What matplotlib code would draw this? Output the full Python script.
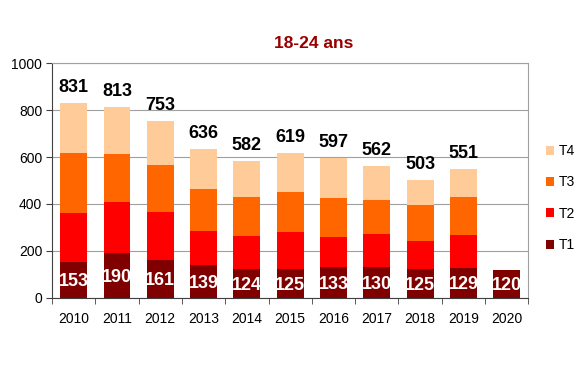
import matplotlib.pyplot as plt
import numpy as np

years = ['2010', '2011', '2012', '2013', '2014', '2015', '2016', '2017', '2018', '2019', '2020']
t1 = [153, 190, 161, 139, 124, 125, 133, 130, 125, 129, 120]
t2 = [207, 218, 205, 145, 141, 156, 127, 141, 119, 140, 0]
t3 = [257, 205, 200, 181, 166, 171, 166, 147, 150, 161, 0]
t4 = [214, 200, 187, 171, 151, 167, 171, 144, 109, 121, 0]
totals = [831, 813, 753, 636, 582, 619, 597, 562, 503, 551, None]

series = [('T1', t1, '#800000'), ('T2', t2, '#ff0000'),
          ('T3', t3, '#ff6600'), ('T4', t4, '#ffcc99')]

plt.rcParams['font.family'] = ['Liberation Sans', 'DejaVu Sans']

fig = plt.figure(figsize=(5.81, 3.71), dpi=100)
ax = fig.add_axes([0.0895, 0.197, 0.82, 0.633])

x = np.arange(len(years))
bottom = np.zeros(len(years))
handles = []
for name, vals, col in series:
    b = ax.bar(x, vals, 0.62, bottom=bottom, color=col, label=name, zorder=2)
    handles.append(b)
    bottom += np.array(vals)

# valeurs T1 en blanc dans la barre
for i, v in enumerate(t1):
    ax.text(x[i], v / 2 - 8, str(v), ha='center', va='center', color='white',
            fontsize=13, fontweight='bold', zorder=3)

# totaux au-dessus
for i, tot in enumerate(totals):
    if tot is None:
        continue
    ax.annotate(str(tot), (x[i], tot), xytext=(0, 5), textcoords='offset points',
                ha='center', va='bottom', fontsize=13, fontweight='bold')

ax.set_xlim(-0.5, len(years) - 0.5)
ax.set_ylim(0, 1000)
ax.set_yticks(range(0, 1001, 200))
ax.yaxis.grid(True, color='#a0a0a0', linewidth=0.8, zorder=0)
ax.set_axisbelow(True)

ax.set_xticks(x)
ax.set_xticklabels(years, fontsize=10)
ax.tick_params(axis='x', length=0, pad=10)
ax.set_xticks(np.arange(-0.5, len(years)), minor=True)
ax.tick_params(axis='x', which='minor', length=4, color='#404040')
ax.tick_params(axis='y', labelsize=10, length=4, color='#404040', pad=3)

for s in ['left', 'bottom']:
    ax.spines[s].set_color('#404040')
for s in ['top', 'right']:
    ax.spines[s].set_color('#a0a0a0')

fig.text(314 / 581, 1 - 43 / 371, '18-24 ans', color='#990000', fontsize=12.5,
         fontweight='bold', ha='center', va='center')

ax.legend(handles[::-1], [h.get_label() for h in handles[::-1]],
          loc='center left', bbox_to_anchor=(1.01, 0.425), frameon=False,
          fontsize=10, handlelength=0.6, handleheight=0.6, labelspacing=1.25,
          handletextpad=0.35)

fig.savefig('out.png', dpi=100)
